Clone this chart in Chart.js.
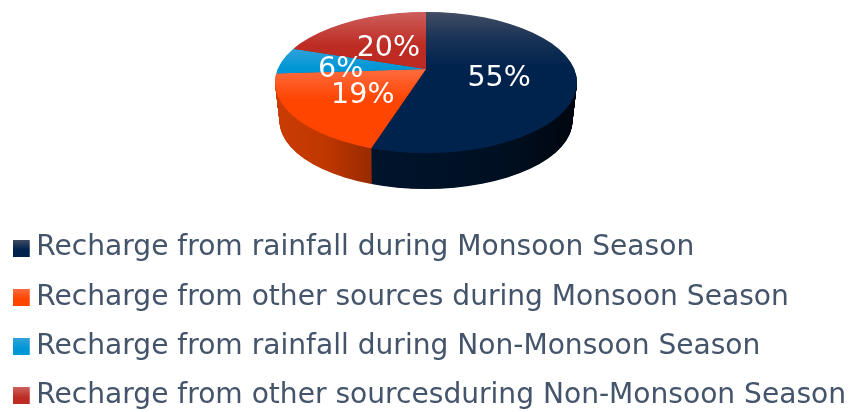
<!DOCTYPE html>
<html><head><meta charset="utf-8">
<style>html,body{margin:0;padding:0;background:#fff}#w{width:850px;height:412px}</style>
<script src="https://cdn.jsdelivr.net/npm/chart.js@4"></script></head>
<body><div id="w"><canvas id="c" width="850" height="412"></canvas></div>
<script>
const categories = [
  "Recharge from rainfall during Monsoon Season",
  "Recharge from other sources during Monsoon Season",
  "Recharge from rainfall during Non-Monsoon Season",
  "Recharge from other sourcesduring Non-Monsoon Season"
];
const shares = [55, 19, 6, 20];
const pctLabels = ["55%", "19%", "6%", "20%"];
const labelRadius = [74, 80, 86, 64];
const labelDrop = [4, 4, 6, 4];
const topStops = [
  [[12,"#414d63"],[36,"#1d3557"],[66,"#00234d"],[153,"#00234d"]],
  [[69,"#ff6b40"],[100,"#ff4500"],[185,"#ff4500"]],
  [[48,"#31a2d9"],[68,"#0097d6"],[75,"#0097d6"]],
  [[12,"#cd5e5c"],[46,"#bd2b22"],[70,"#bd2b22"]]
];
const wallStops = [
  [[371,"#00142c"],[500,"#001022"],[577,"#00060e"]],
  [[275,"#cc3c05"],[325,"#c03700"],[372,"#982a00"]],
  [[275,"#007099"],[300,"#007099"]],
  [[275,"#8a1f18"],[430,"#8a1f18"]]
];
const iconStops = [["#414d63","#00234d"],["#ff6b40","#ff4500"],["#31a2d9","#0097d6"],["#cd5e5c","#bd2b22"]];

const apex = {x:426, y:69};
const face = {x:426, y:82.5, rx:151, ry:70.5};
const base = {rx:146.5, ry:68, drop:36};
const tilt = 0.47, reach = 190;

function icon(st){
  const c = document.createElement('canvas'); c.width = 18; c.height = 17;
  const g = c.getContext('2d'), l = g.createLinearGradient(0,0,0,17);
  l.addColorStop(0,st[0]); l.addColorStop(0.6,st[1]); l.addColorStop(1,st[1]);
  g.fillStyle = l; g.fillRect(0,0,17,17); return c;
}
const icons = iconStops.map(icon);

const pie3d = {
  id:'pie3d',
  beforeDatasetsDraw(chart){
    const ctx = chart.ctx, arcs = chart.getDatasetMeta(0).data;
    const R = arcs[0].outerRadius, ox = arcs[0].x, oy = arcs[0].y;
    const k = reach / R;
    const lx = x => ox + (x - apex.x) / k;
    const ly = (y,d) => oy + (y - apex.y - d) / (k * tilt);
    const paint = (i, grad, d) => {
      const a = arcs[i], keep = a.options;
      a.options = Object.assign({}, keep, {backgroundColor:grad, borderWidth:0, borderColor:grad});
      a.draw(ctx);
      a.options = keep;
    };
    const layer = (rx, ry, cy, d, stops, horizontal) => {
      ctx.save();
      ctx.beginPath(); ctx.ellipse(face.x, cy, rx, ry, 0, 0, Math.PI*2); ctx.clip();
      ctx.translate(apex.x, apex.y + d);
      ctx.scale(k, k * tilt);
      ctx.translate(-ox, -oy);
      arcs.forEach((a,i) => {
        const s = stops[i], p0 = s[0][0], p1 = s[s.length-1][0];
        const g = horizontal ? ctx.createLinearGradient(lx(p0),0,lx(p1),0)
                             : ctx.createLinearGradient(0,ly(p0,d),0,ly(p1,d));
        s.forEach(q => g.addColorStop((q[0]-p0)/(p1-p0), q[1]));
        paint(i, g, d);
      });
      ctx.restore();
    };
    const n = Math.ceil(base.drop) * 2;
    for (let j = n; j >= 1; j--) {
      const t = j / n, ry = face.ry + (base.ry-face.ry)*t, rx = face.rx + (base.rx-face.rx)*t;
      const d = base.drop * t;
      layer(rx, ry, face.y + (face.ry - ry) + d, d, wallStops, true);
    }
    layer(face.rx, face.ry, face.y, 0, topStops, false);
    return false;
  },
  afterDraw(chart){
    const ctx = chart.ctx, total = shares.reduce((a,b)=>a+b,0);
    let acc = 0;
    ctx.save();
    ctx.fillStyle = '#fff'; ctx.font = '28.5px "DejaVu Sans"';
    ctx.textAlign = 'center'; ctx.textBaseline = 'middle';
    shares.forEach((v,i) => {
      const m = (acc + v/2) / total * Math.PI*2; acc += v;
      ctx.fillText(pctLabels[i], apex.x + labelRadius[i]*Math.sin(m), apex.y + labelDrop[i] - labelRadius[i]*Math.cos(m)*tilt);
    });
    ctx.restore();
  }
};

new Chart(document.getElementById('c'), {
  type:'pie',
  data:{labels:categories, datasets:[{data:shares, backgroundColor:iconStops.map(s=>s[1]), borderWidth:0}]},
  plugins:[pie3d],
  options:{
    responsive:false, animation:false, events:[],
    layout:{padding:{top:0,bottom:-8,left:0,right:0}},
    plugins:{
      tooltip:{enabled:false},
      legend:{
        position:'bottom', align:'start',
        labels:{
          usePointStyle:true, pointStyleWidth:1, padding:21.2,
          color:'#44546a', font:{family:'"DejaVu Sans"', size:28.1},
          generateLabels(){ return categories.map((t,i)=>({text:t, fontColor:'#44546a', pointStyle:icons[i], index:i, hidden:false, lineWidth:0})); }
        }
      }
    }
  }
});
</script></body></html>
